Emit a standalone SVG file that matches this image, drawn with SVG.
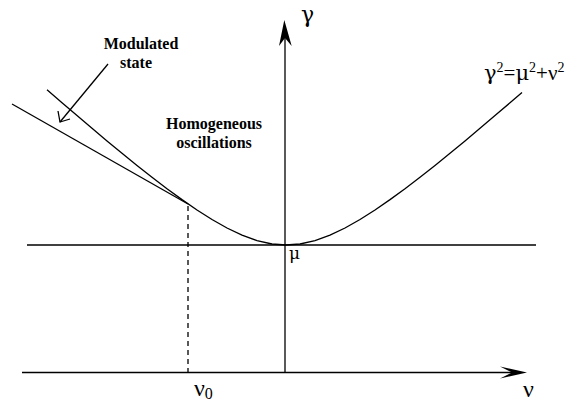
<svg xmlns="http://www.w3.org/2000/svg" width="581" height="402" viewBox="0 0 581 402">
<style>
.ln{fill:none;stroke:#000;stroke-width:1.3}
.lbl{font-family:"Liberation Serif","Times New Roman",serif;font-weight:bold;font-size:16px;fill:#000}
.math{font-family:"Liberation Serif","Times New Roman",serif;fill:#000}
.gk{font-family:"DejaVu Serif","Liberation Serif",serif}
</style>
<rect width="581" height="402" fill="#fff"/>
<g id="connectors">
<line class="ln" x1="285" y1="373" x2="285" y2="36"/>
<path d="M284.3,20 L291.7,46 L285,38 L279,46 Z" fill="#000"/>
<line class="ln" x1="22" y1="372.5" x2="515" y2="372.5"/>
<path d="M527,372.5 L500,366.5 L512,372.5 L500,378.5 Z" fill="#000"/>
<line class="ln" x1="27" y1="245" x2="536" y2="245" style="stroke-width:1.5"/>
<polyline class="ln" points="47,89.8 62,102.8 77,115.6 92,128.3 107,140.9 122,153.3 137,165.4 152,177.2 167,188.7 182,199.6 197,210 212,219.5 227,228 242,235.2 257,240.6 272,244 286,245 300,244 315,240.6 330,235.2 345,228 360,219.5 375,210 390,199.6 405,188.7 420,177.2 435,165.4 450,153.3 465,140.9 480,128.3 495,115.6 510,102.8 522,92.4"/>
<line class="ln" x1="12" y1="104" x2="188" y2="204"/>
<line class="ln" x1="188" y1="206" x2="188" y2="372" stroke-dasharray="5,4"/>
<line class="ln" x1="108" y1="64" x2="60" y2="122"/>
<polyline class="ln" points="58,111 60,122 70,119"/>
</g>
<g id="modulated-state">
<text class="lbl" x="141" y="49" text-anchor="middle">Modulated</text>
<text class="lbl" x="136" y="68" text-anchor="middle">state</text>
</g>
<g id="homogeneous">
<text class="lbl" x="214" y="129" text-anchor="middle">Homogeneous</text>
<text class="lbl" x="214" y="148" text-anchor="middle">oscillations</text>
</g>
<g id="axis-labels">
<text class="math gk" x="301" y="22" font-size="22">γ</text>
<text class="math gk" x="289" y="259" font-size="17">μ</text>
<text class="math" x="194" y="396" font-size="24">ν<tspan font-size="16" dy="3">0</tspan></text>
<text class="math" x="523" y="397" font-size="24">ν</text>
<text class="math" x="484" y="80" font-size="21"><tspan class="gk">γ</tspan><tspan font-size="14" dy="-8">2</tspan><tspan dy="8">=</tspan><tspan class="gk">μ</tspan><tspan font-size="14" dy="-8">2</tspan><tspan dy="8">+ν</tspan><tspan font-size="14" dy="-8">2</tspan></text>
</g>
</svg>
